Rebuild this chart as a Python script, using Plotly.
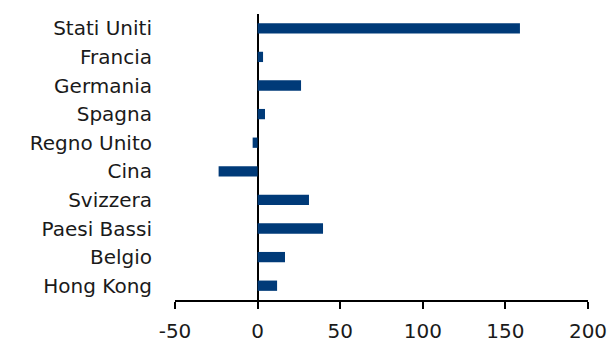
import plotly.graph_objects as go

# Countries (top to bottom) and their values
countries = ["Stati Uniti", "Francia", "Germania", "Spagna", "Regno Unito",
             "Cina", "Svizzera", "Paesi Bassi", "Belgio", "Hong Kong"]
values = [158.8, 3.3, 26.3, 4.5, -3.0, -23.6, 31.1, 39.6, 16.6, 11.8]
x_ticks = [-50, 0, 50, 100, 150, 200]

FONT = "Century Gothic, URW Gothic, DejaVu Sans, sans-serif"

fig = go.Figure(
    go.Bar(
        x=values,
        y=countries,
        orientation="h",
        width=0.36,
        marker=dict(color="#003A78", line=dict(width=0)),
    )
)

fig.update_layout(
    width=611,
    height=345,
    margin=dict(l=175, r=23, t=14, b=45),
    plot_bgcolor="white",
    paper_bgcolor="white",
    showlegend=False,
    font=dict(family=FONT, size=20, color="#1a1a1a"),
)

fig.update_xaxes(
    range=[-50, 200],
    tickvals=x_ticks,
    ticktext=[str(v) for v in x_ticks],
    automargin=False,
    showgrid=False,
    showline=True,
    linecolor="black",
    linewidth=2,
    ticks="outside",
    ticklen=7,
    tickwidth=2,
    tickcolor="black",
    ticklabelstandoff=5,
    zeroline=True,
    zerolinecolor="black",
    zerolinewidth=1.5,
    fixedrange=True,
)

fig.update_yaxes(
    categoryorder="array",
    categoryarray=countries[::-1],
    automargin=False,
    showgrid=False,
    showline=False,
    ticks="",
    ticklabelstandoff=22,
    fixedrange=True,
)

fig.write_html("out.html")
